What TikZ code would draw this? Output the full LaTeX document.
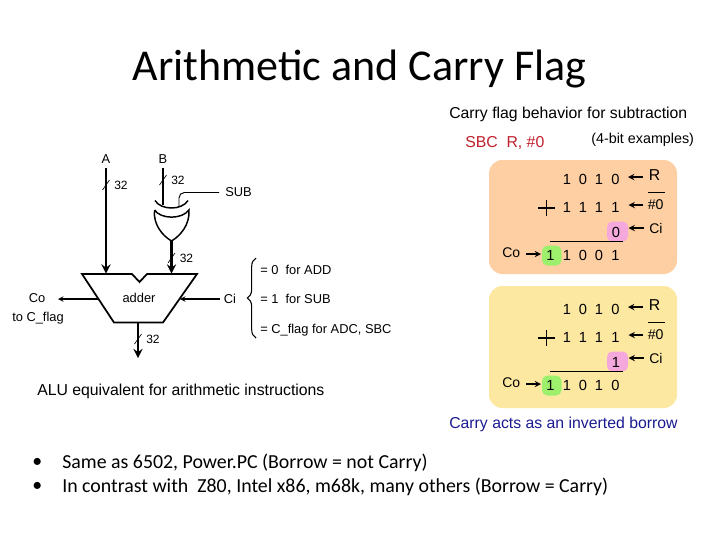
\documentclass[tikz,border=0pt]{standalone}
\usepackage{fontspec}
\setmainfont{Liberation Sans}
\newfontfamily\slidefont{Carlito}
\usetikzlibrary{decorations.pathreplacing}
\definecolor{peachbox}{HTML}{FDCFA2}
\definecolor{strawbox}{HTML}{FDE8A2}
\definecolor{greencell}{HTML}{9CF06C}
\definecolor{pinkcell}{HTML}{F5A8DC}
\definecolor{sbcred}{HTML}{C0202C}
\definecolor{noteblue}{HTML}{1A1A90}
\tikzset{
  lbl/.style={inner sep=0pt, font=\fontsize{9.65}{11}\selectfont},
  biglbl/.style={inner sep=0pt, anchor=west, font=\fontsize{11.85}{14}\selectfont},
  bit/.style={inner sep=0pt, font=\fontsize{11}{13}\selectfont},
  bus/.style={->, line width=2pt},
  wire/.style={->, line width=0.8pt},
  slashmark/.style={line width=0.5pt},
  shortarrow/.style={->, line width=1.1pt},
  cell/.style={rounded corners=4pt, draw=none},
  bullet/.style={inner sep=0pt, anchor=west, font=\slidefont\fontsize{14.9}{18}\selectfont}
}
\begin{document}
\begin{tikzpicture}[>=stealth, x=0.75pt, y=-0.75pt]
  \useasboundingbox (0,0) rectangle (720,540);

  % Title
  \node[inner sep=0pt, font=\slidefont\fontsize{33}{40}\selectfont] (title) at (359.5,69) {Arithmetic and Carry Flag};

  % Adder block
  \draw[line width=1.3pt] (82,274) coordinate (addtl) -- (132,274) -- (139.5,282) -- (147,274) -- (197,274) coordinate (addtr)
    -- (163,322.5) coordinate (addbr) -- (114,322.5) coordinate (addbl) -- cycle;
  \node[lbl] (adder) at (139,298) {adder};
  \coordinate (addina) at (106,273.5);
  \coordinate (addinb) at (171.5,273.5);
  \coordinate (addco) at (98,299);
  \coordinate (addci) at (180,299);
  \coordinate (addout) at (138,322.5);

  % Inputs and carry
  \node[lbl] (a) at (106,159.5) {A};
  \node[lbl] (b) at (163,159.5) {B};
  \node[lbl] (co) at (37,298.5) {Co};
  \node[lbl] (toflag) at (38,318.5) {to C\_flag};
  \node[lbl] (ci) at (230,299) {Ci};
  \node[lbl, anchor=west] (sub) at (225,192.5) {SUB};
  \coordinate (aend) at (106,168);
  \coordinate (bend) at (163,168);
  \coordinate (res) at (138,358);
  \coordinate (coend) at (58,299);
  \coordinate (ciend) at (220,299);
  \coordinate (subend) at (219,192.5);

  % XOR gate
  \draw[line width=1.1pt] (155,200.5) .. controls (161,210.5) and (182,210.5) .. (188,200.5);
  \draw[line width=1.1pt] (154.5,210) .. controls (161,219.5) and (182,219.5) .. (189,210)
    .. controls (190,225) and (180,236) .. (171.5,241) coordinate (xorout)
    .. controls (163,236) and (153,225) .. (154.5,210);
  \coordinate (xorb) at (163,205);
  \coordinate (xorsub) at (179,206);

  % Wires
  \draw[bus] (aend) -- (addina);
  \draw[line width=2pt] (bend) -- (xorb);
  \draw[bus] (xorout) -- (addinb);
  \draw[bus] (addout) -- (res);
  \draw[line width=0.7pt, rounded corners=4pt] (xorsub) |- (subend);
  \draw[wire] (addco) -- (coend);
  \draw[wire] (ciend) -- (addci);

  % Bus widths
  \foreach \bx/\by/\tag in {106/185/wa, 163/180/wb, 171.5/258/wx, 138/339/wr}{
    \draw[slashmark] (\bx-3.5,\by+5) -- (\bx+3.5,\by-5);
    \node[inner sep=0pt, anchor=west, font=\fontsize{9}{10}\selectfont] (\tag) at (\bx+8,\by+0.5) {32};
  }

  % Carry-in choices
  \draw[line width=0.8pt, decorate, decoration={brace, amplitude=6.5pt}] (256,338) -- (256,258);
  \node[lbl, anchor=west] (cadd) at (260,270) {= 0\ \ for ADD};
  \node[lbl, anchor=west] (csub) at (260,298.5) {= 1\ \ for SUB};
  \node[lbl, anchor=west] (cflag) at (260,330.5) {= C\_flag for ADC, SBC};
  \node[biglbl] (alu) at (37,391.5) {ALU equivalent for arithmetic instructions};

  % Right side headings
  \node[biglbl] (carryhead) at (449,114.5) {Carry flag behavior for subtraction};
  \node[biglbl, text=sbcred] (sbc) at (465,142.5) {SBC\ \ R, \#0};
  \node[biglbl, font=\fontsize{10.75}{13}\selectfont] (examples) at (591,139.5) {(4-bit examples)};
  \node[biglbl, text=noteblue] (borrow) at (449,424.5) {Carry acts as an inverted borrow};

  % Example boxes
  \fill[peachbox, rounded corners=10pt] (489,160) rectangle (677,274);
  \fill[strawbox, rounded corners=10pt] (489,286) rectangle (677,408);

  \foreach \oy/\tag/\cin/\sb/\sc/\sd in {0/u/0/0/0/1, 130/l/1/0/1/0}{
    \fill[pinkcell, cell] (607,221.5+\oy) rectangle (628,241.5+\oy);
    \fill[greencell, cell] (542,245.5+\oy) rectangle (561.5,265.5+\oy);
    \foreach \dx/\v/\n in {567/1/a, 583/0/b, 599/1/c, 615.5/0/d}
      \node[bit] (r\tag\n) at (\dx,179+\oy) {\v};
    \foreach \dx/\n in {567/a, 583/b, 599/c, 615.5/d}
      \node[bit] (s\tag\n) at (\dx,207+\oy) {1};
    \node[bit] (cin\tag) at (616,232.5+\oy) {\cin};
    \node[bit] (co\tag) at (550.5,255.5+\oy) {1};
    \node[bit] (ta\tag) at (567,255.5+\oy) {1};
    \node[bit] (tb\tag) at (583,255.5+\oy) {\sb};
    \node[bit] (tc\tag) at (599,255.5+\oy) {\sc};
    \node[bit] (td\tag) at (615.5,255.5+\oy) {\sd};
    \draw[line width=0.9pt] (550,241.5+\oy) coordinate (sl\tag) -- (623,241.5+\oy) coordinate (sr\tag);
    % Plus sign
    \draw[line width=0.8pt] (538,208+\oy) -- (555,208+\oy)  (546.5,200+\oy) -- (546.5,216+\oy);
    % Labels at the right and left
    \node[biglbl] (rname\tag) at (648.5,175+\oy) {R};
    \node[biglbl, font=\fontsize{10.6}{12}\selectfont] (nzero\tag) at (647.5,205+\oy) {\#0};
    \draw[line width=0.7pt] (648,192+\oy) -- (664.5,192+\oy);
    \node[biglbl, font=\fontsize{10.5}{12}\selectfont] (ciname\tag) at (649,228+\oy) {Ci};
    \node[biglbl, font=\fontsize{10.5}{12}\selectfont] (coname\tag) at (502,252.5+\oy) {Co};
    \coordinate (rtip\tag) at (628,177+\oy);
    \coordinate (ztip\tag) at (628.5,205+\oy);
    \coordinate (ctip\tag) at (628.5,228+\oy);
    \coordinate (otip\tag) at (541,254+\oy);
    \draw[shortarrow] (643,177+\oy) -- (rtip\tag);
    \draw[shortarrow] (643,205+\oy) -- (ztip\tag);
    \draw[shortarrow] (644,228+\oy) -- (ctip\tag);
    \draw[shortarrow] (526,254+\oy) -- (otip\tag);
  }

  % Bullets
  \node[bullet] (bulla) at (62,463) {Same as 6502, Power.PC (Borrow = not Carry)};
  \node[bullet] (bullb) at (62,487) {In contrast with\ \ Z80, Intel x86, m68k, many others (Borrow = Carry)};
  \node[bullet] (dota) at (32,463) {\textbullet};
  \node[bullet] (dotb) at (32,487) {\textbullet};
\end{tikzpicture}
\end{document}
